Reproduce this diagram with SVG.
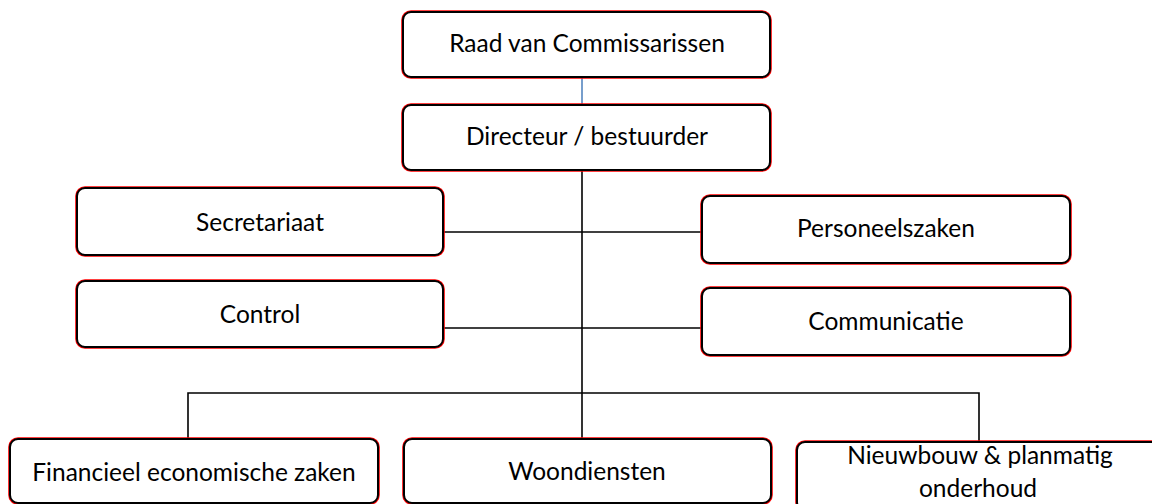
<svg xmlns="http://www.w3.org/2000/svg" width="1152" height="504" viewBox="0 0 1152 504">
<style>
.r{fill:none;stroke:#ff0000;stroke-width:1.6}
.b{fill:#ffffff;stroke:#000000;stroke-width:2}
.t{font-family:Lato,"Liberation Sans",sans-serif;font-size:24.5px;fill:#000000;text-anchor:middle}
.c{fill:none;stroke:#000000;stroke-width:1.6}
</style>
<rect width="1152" height="504" fill="#ffffff"/>
<g id="connectors">
<line x1="582" y1="77" x2="582" y2="105" stroke="#4a7ebb" stroke-width="1.5"/>
<line class="c" x1="582" y1="170" x2="582" y2="439"/>
<line class="c" x1="443" y1="232" x2="702" y2="232"/>
<line class="c" x1="443" y1="328" x2="702" y2="328"/>
<polyline class="c" points="188,439 188,393 979,393 979,442"/>
</g>
<g id="raad">
<rect class="r" x="402" y="11" width="369" height="67" rx="9"/>
<rect class="b" x="403" y="12" width="367" height="65" rx="8"/>
<text class="t" x="587" y="52">Raad van Commissarissen</text>
</g>
<g id="directeur">
<rect class="r" x="402" y="104" width="369" height="67" rx="9"/>
<rect class="b" x="403" y="105" width="367" height="65" rx="8"/>
<text class="t" x="587" y="145">Directeur / bestuurder</text>
</g>
<g id="secretariaat">
<rect class="r" x="76" y="187" width="368" height="69" rx="9"/>
<rect class="b" x="77" y="188" width="366" height="67" rx="8"/>
<text class="t" x="260" y="231">Secretariaat</text>
</g>
<g id="personeelszaken">
<rect class="r" x="701" y="195" width="370" height="69" rx="9"/>
<rect class="b" x="702" y="196" width="368" height="67" rx="8"/>
<text class="t" x="886" y="237">Personeelszaken</text>
</g>
<g id="control">
<rect class="r" x="76" y="280" width="368" height="68" rx="9"/>
<rect class="b" x="77" y="281" width="366" height="66" rx="8"/>
<text class="t" x="260" y="323">Control</text>
</g>
<g id="communicatie">
<rect class="r" x="701" y="287" width="370" height="69" rx="9"/>
<rect class="b" x="702" y="288" width="368" height="67" rx="8"/>
<text class="t" x="886" y="330">Communicatie</text>
</g>
<g id="financieel">
<rect class="r" x="9" y="438" width="370" height="66" rx="9"/>
<rect class="b" x="10" y="439" width="368" height="64" rx="8"/>
<text class="t" x="194" y="481">Financieel economische zaken</text>
</g>
<g id="woondiensten">
<rect class="r" x="403" y="438" width="369" height="66" rx="9"/>
<rect class="b" x="404" y="439" width="367" height="64" rx="8"/>
<text class="t" x="587" y="480">Woondiensten</text>
</g>
<g id="nieuwbouw">
<rect class="r" x="796" y="441" width="369" height="70" rx="9"/>
<rect class="b" x="797" y="442" width="367" height="68" rx="8"/>
<text class="t" x="980" y="464">Nieuwbouw &amp; planmatig</text>
<text class="t" x="978" y="497">onderhoud</text>
</g>
</svg>
